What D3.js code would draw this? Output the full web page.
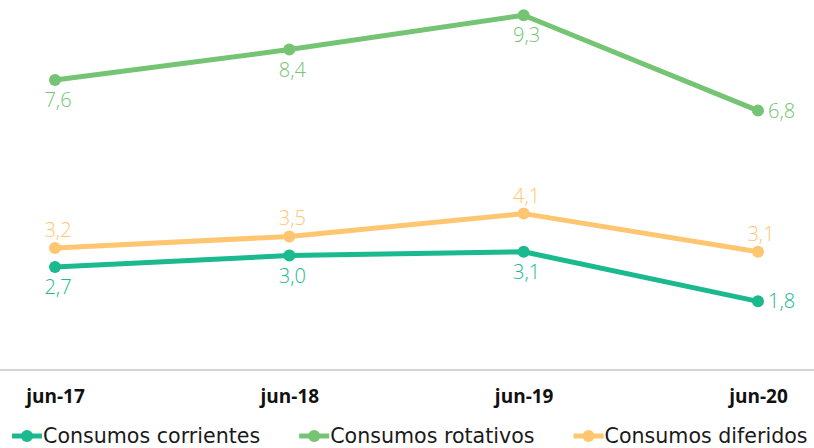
<!DOCTYPE html>
<html>
<head>
<meta charset="utf-8">
<script src="https://cdn.jsdelivr.net/npm/d3@7"></script>
<style>
  body { margin: 0; background: #fff; }
  svg { display: block; }
</style>
</head>
<body>
<svg width="814" height="448"></svg>
<script>
let periods = ["jun-17", "jun-18", "jun-19", "jun-20"];
let seriesNames = ["Consumos corrientes", "Consumos rotativos", "Consumos diferidos"];
let corrientes = [2.7, 3.0, 3.1, 1.8];
let rotativos = [7.6, 8.4, 9.3, 6.8];
let diferidos = [3.2, 3.5, 4.1, 3.1];
// where each value label sits relative to its point
let corrientesLabels = ["below", "below", "below", "right"];
let rotativosLabels = ["below", "below", "below", "right"];
let diferidosLabels = ["above", "above", "above", "above"];
let colors = ["#1ab98e", "#74c474", "#ffc671"];

let svg = d3.select("svg");
let width = +svg.attr("width");

let x = d3.scalePoint().domain(periods).range([55, 758]);
let y = d3.scaleLinear().domain([0, 9.7]).range([370, 0]);

// base line across the whole width
svg.append("line")
  .attr("x1", 0).attr("x2", width)
  .attr("y1", y(0)).attr("y2", y(0))
  .attr("stroke", "#d4d4d4")
  .attr("stroke-width", 2);

let xAxis = d3.axisBottom(x).tickSize(0).tickPadding(20);
let xGroup = svg.append("g")
  .attr("transform", "translate(0," + y(0) + ")")
  .call(xAxis);
xGroup.select(".domain").remove();
xGroup.selectAll("text")
  .attr("fill", "#111")
  .style("font-family", "'Open Sans', sans-serif")
  .style("font-weight", "bold")
  .style("font-size", "19px");

let series = [
  { name: seriesNames[0], values: corrientes, labels: corrientesLabels, color: colors[0] },
  { name: seriesNames[1], values: rotativos, labels: rotativosLabels, color: colors[1] },
  { name: seriesNames[2], values: diferidos, labels: diferidosLabels, color: colors[2] }
];

let line = d3.line()
  .x((d, i) => x(periods[i]))
  .y(d => y(d));

let fmt = v => d3.format(".1f")(v).replace(".", ",");

series.forEach(s => {
  let g = svg.append("g");
  g.append("path")
    .attr("d", line(s.values))
    .attr("fill", "none")
    .attr("stroke", s.color)
    .attr("stroke-width", 5)
    .attr("stroke-linejoin", "round");
  g.selectAll("circle")
    .data(s.values)
    .join("circle")
    .attr("cx", (d, i) => x(periods[i]))
    .attr("cy", d => y(d))
    .attr("r", 6)
    .attr("fill", s.color);
  g.selectAll("text")
    .data(s.values)
    .join("text")
    .attr("x", (d, i) => s.labels[i] == "right" ? x(periods[i]) + 10 : x(periods[i]) + 3)
    .attr("y", (d, i) => {
      if (s.labels[i] == "below") return y(d) + 27;
      if (s.labels[i] == "above") return y(d) - 11;
      return y(d) + 7;
    })
    .attr("text-anchor", (d, i) => s.labels[i] == "right" ? "start" : "middle")
    .attr("fill", s.color)
    .style("font-family", "'Open Sans', sans-serif")
    .style("font-weight", "300")
    .style("font-size", "20px")
    .text(d => fmt(d));
});

// legend
let legend = svg.append("g").attr("transform", "translate(12,436)");
let lx = 0;
series.forEach(s => {
  let item = legend.append("g").attr("transform", "translate(" + lx + ",0)");
  item.append("line")
    .attr("x1", 0).attr("x2", 30)
    .attr("stroke", s.color)
    .attr("stroke-width", 5);
  item.append("circle")
    .attr("cx", 15).attr("r", 6)
    .attr("fill", s.color);
  let t = item.append("text")
    .attr("x", 31)
    .attr("y", 7)
    .attr("fill", "#1a1a1a")
    .style("font-family", "'DejaVu Sans', sans-serif")
    .style("font-size", "20.6px")
    .text(s.name);
  lx += 31 + t.node().getComputedTextLength() + 39;
});
</script>
</body>
</html>
